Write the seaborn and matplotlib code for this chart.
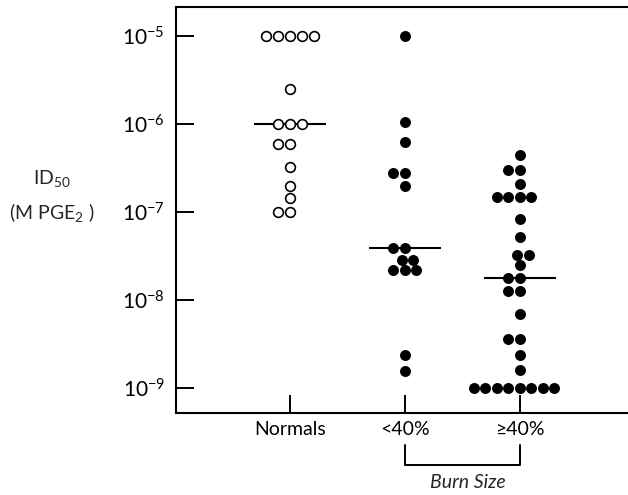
import numpy as np
import pandas as pd
import seaborn as sns
import matplotlib.pyplot as plt
import matplotlib.transforms as mtransforms

sns.set_style("ticks")
plt.rcParams['font.family'] = ['Lato', 'DejaVu Sans']
plt.rcParams['mathtext.fontset'] = 'custom'
plt.rcParams['mathtext.rm'] = 'Lato'
plt.rcParams['mathtext.it'] = 'Lato:italic'
plt.rcParams['mathtext.bf'] = 'Lato:bold'
plt.rcParams['axes.unicode_minus'] = False

# ID50 values (M PGE2)
groups = ["Normals", "<40%", "\u226540%"]
normals = [1e-5, 1e-5, 1e-5, 1e-5, 1e-5, 2.5e-6, 1e-6, 1e-6, 1e-6,
           6e-7, 6e-7, 3.3e-7, 2e-7, 1.45e-7, 1e-7, 1e-7]
burn_lt40 = [1e-5, 1.05e-6, 6.2e-7, 2.8e-7, 2.8e-7, 2e-7, 3.9e-8, 3.9e-8,
             2.9e-8, 2.9e-8, 2.2e-8, 2.2e-8, 2.2e-8, 2.4e-9, 1.56e-9]
burn_ge40 = [4.5e-7, 3e-7, 3e-7, 2.1e-7, 1.5e-7, 1.5e-7, 1.5e-7, 1.5e-7,
             8.3e-8, 5.2e-8, 3.3e-8, 3.3e-8, 2.5e-8, 1.8e-8, 1.8e-8,
             1.26e-8, 1.26e-8, 6.9e-9, 3.6e-9, 3.6e-9, 2.4e-9, 1.6e-9,
             1e-9, 1e-9, 1e-9, 1e-9, 1e-9, 1e-9, 1e-9, 1e-9]
medians = [1e-6, 3.9e-8, 1.8e-8]

df = pd.DataFrame({
    "group": [groups[0]] * len(normals) + [groups[1]] * len(burn_lt40) + [groups[2]] * len(burn_ge40),
    "id50": normals + burn_lt40 + burn_ge40,
})

fig = plt.figure(figsize=(6.28, 4.95), dpi=100)
ax = fig.add_axes([176 / 628, 1 - 413 / 495, 1 - 176 / 628, (413 - 7) / 495])

# median bars
idx = np.arange(len(groups))
ax.hlines(medians, idx - 0.31, idx + 0.31, color="black", lw=1.5, zorder=1)

sns.swarmplot(data=df[df["group"] == groups[0]], x="group", y="id50", order=groups,
              color="white", edgecolor="black", linewidth=1.2, size=7.0,
              log_scale=True, ax=ax, zorder=3)
sns.swarmplot(data=df[df["group"] != groups[0]], x="group", y="id50", order=groups,
              color="black", linewidth=0, size=7.9,
              log_scale=True, ax=ax, zorder=3)

ax.set_yscale("log")
ax.set_ylim(10 ** -9.28, 10 ** -4.67)
ax.set_xlim(-0.991, 2.94)
ax.set_yticks([1e-9, 1e-8, 1e-7, 1e-6, 1e-5])
ax.minorticks_off()
ax.tick_params(axis="both", direction="in", length=13, width=1.4, labelsize=14,
               colors="black")
ax.tick_params(axis="y", pad=8, labelsize=15)
ax.tick_params(axis="x", pad=6)
for s in ["left", "bottom", "top"]:
    ax.spines[s].set_linewidth(1.5)
    ax.spines[s].set_color("black")
ax.spines["right"].set_visible(False)

ax.set_xlabel("")
ax.set_ylabel("ID$_{50}$\n(M PGE$_2$ )", rotation=0, fontsize=14, ha="center",
              va="center", linespacing=1.7)
ax.yaxis.set_label_coords(-0.274, 0.534)

# Burn Size bracket under the two burn groups
trans = mtransforms.blended_transform_factory(ax.transData, ax.transAxes)
ax.plot([1, 1, 2, 2], [-0.079, -0.128, -0.128, -0.079], color="black", lw=1.4,
        transform=trans, clip_on=False)
ax.text(1.55, -0.17, "Burn Size", style="italic", fontsize=14, ha="center",
        va="center", transform=trans)

fig.savefig("out.png", dpi=100)
